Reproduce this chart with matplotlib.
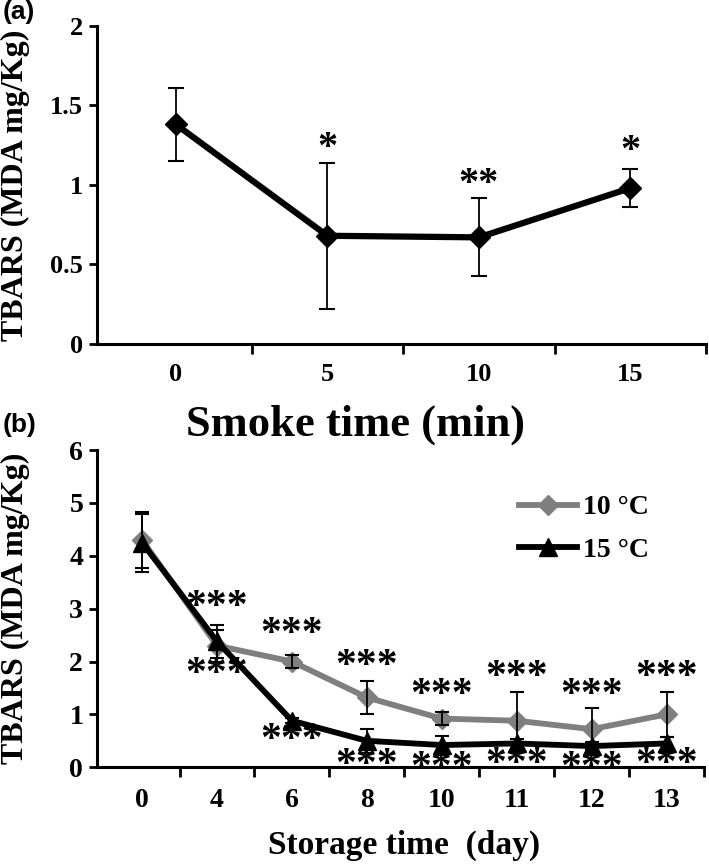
import matplotlib
matplotlib.use("Agg")
import matplotlib.pyplot as plt
import numpy as np

# ---------------- data ----------------
smoke_labels = ["0", "5", "10", "15"]
smoke_tbars = [1.38, 0.68, 0.67, 0.98]
smoke_err = [0.23, 0.46, 0.245, 0.12]
smoke_stars = ["", "*", "**", "*"]
smoke_star_y = [None, 1.23, 1.0, 1.21]

day_labels = ["0", "4", "6", "8", "10", "11", "12", "13"]
t10_tbars = [4.30, 2.30, 2.00, 1.32, 0.92, 0.88, 0.72, 1.00]
t10_err = [0.53, 0.30, 0.12, 0.32, 0.12, 0.55, 0.40, 0.42]
t15_tbars = [4.25, 2.38, 0.88, 0.50, 0.42, 0.45, 0.40, 0.45]
t15_err = [0.55, 0.32, 0.05, 0.23, 0.18, 0.08, 0.08, 0.12]
stars_above_y = [None, 3.02, 2.50, 1.90, 1.35, 1.69, 1.35, 1.69]
stars_below_y = [None, 1.74, 0.49, 0.02, -0.03, 0.04, -0.03, 0.04]
legend_labels = ["10 \u00b0C", "15 \u00b0C"]

SERIF = "Liberation Serif"
SANS = "Liberation Sans"

fig = plt.figure(figsize=(7.09, 8.64), dpi=100)

def style_axes(ax, ncat, ymax, yticks, ylabels, fs):
    for s in ["top", "right"]:
        ax.spines[s].set_visible(False)
    for s in ["left", "bottom"]:
        ax.spines[s].set_linewidth(2.2)
    ax.set_ylim(0, ymax)
    ax.set_yticks(yticks)
    ax.set_yticklabels(ylabels, fontfamily=SERIF, fontweight="bold", fontsize=fs)
    ax.tick_params(axis="y", direction="out", length=6, width=2, pad=4)
    ax.set_xticks(np.arange(ncat) + 0.5)
    ax.set_xticklabels([])
    ax.tick_params(axis="x", direction="out", length=7, width=2)

# ---------------- panel a ----------------
axa = fig.add_axes([0.137, 0.602, 0.859, 0.368])
xa = np.arange(len(smoke_labels))
axa.errorbar(xa, smoke_tbars, yerr=smoke_err, fmt="none", ecolor="black",
             elinewidth=1.3, capsize=5.5, capthick=1.5, zorder=2)
axa.plot(xa, smoke_tbars, color="black", lw=4.5, marker="D", ms=11,
         solid_capstyle="round", zorder=3)
axa.set_xlim(-0.52, 3.5)
style_axes(axa, 4, 2, [0, 0.5, 1, 1.5, 2], ["0", "0.5", "1", "1.5", "2"], 19)
for xi, lab in zip(xa, smoke_labels):
    axa.text(xi, -0.095, lab, transform=axa.get_xaxis_transform(), ha="center",
             va="center", fontfamily=SERIF, fontweight="bold", fontsize=19)
for xi, s, yy in zip(xa, smoke_stars, smoke_star_y):
    if s:
        axa.text(xi, yy, s, ha="center", va="center",
                 fontfamily=SERIF, fontweight="bold", fontsize=29)
axa.set_ylabel("TBARS (MDA mg/Kg)", fontfamily=SERIF, fontweight="bold",
               fontsize=23)
axa.yaxis.set_label_coords(-0.11, 0.5)
fig.text(0.502, 0.508, "Smoke time (min)", ha="center", va="center",
         fontfamily=SERIF, fontweight="bold", fontsize=32)
fig.text(0.003, 0.986, "(a)", ha="left", va="center", fontfamily=SANS,
         fontweight="bold", fontsize=19)
fig.text(0.003, 0.508, "(b)", ha="left", va="center", fontfamily=SANS,
         fontweight="bold", fontsize=19)

# ---------------- panel b ----------------
axb = fig.add_axes([0.137, 0.112, 0.856, 0.367])
xb = np.arange(len(day_labels))
axb.errorbar(xb, t10_tbars, yerr=t10_err, fmt="none", ecolor="black",
             elinewidth=1.3, capsize=5, capthick=1.5, zorder=4)
axb.errorbar(xb, t15_tbars, yerr=t15_err, fmt="none", ecolor="black",
             elinewidth=1.3, capsize=5, capthick=1.5, zorder=4)
l10, = axb.plot(xb, t10_tbars, color="#7f7f7f", lw=4.2, marker="D", ms=10,
                mfc="#7f7f7f", mec="#7f7f7f", zorder=3, label=legend_labels[0])
l15, = axb.plot(xb, t15_tbars, color="black", lw=4.2, marker="^", ms=13,
                zorder=3, label=legend_labels[1])
axb.set_xlim(-0.6, 7.5)
style_axes(axb, 8, 6, [0, 1, 2, 3, 4, 5, 6], ["0", "1", "2", "3", "4", "5", "6"], 20)
for xi, lab in zip(xb, day_labels):
    axb.text(xi, -0.105, lab, transform=axb.get_xaxis_transform(), ha="center",
             va="center", fontfamily=SERIF, fontweight="bold", fontsize=20)
for xi, ya, yb in zip(xb, stars_above_y, stars_below_y):
    if ya is not None:
        axb.text(xi, ya, "***", ha="center", va="center",
                 fontfamily=SERIF, fontweight="bold",
                 fontsize=30, zorder=5, clip_on=False)
    if yb is not None:
        axb.text(xi, yb, "***", ha="center", va="center",
                 fontfamily=SERIF, fontweight="bold",
                 fontsize=30, zorder=5, clip_on=False)
axb.set_ylabel("TBARS (MDA mg/Kg)", fontfamily=SERIF, fontweight="bold",
               fontsize=23)
axb.yaxis.set_label_coords(-0.11, 0.5)
fig.text(0.57, 0.021, "Storage time  (day)", ha="center", va="center",
         fontfamily=SERIF, fontweight="bold", fontsize=24)
axb.legend(handles=[l10, l15], loc="upper left", bbox_to_anchor=(0.672, 0.903),
           frameon=False, prop={"family": SERIF, "weight": "bold", "size": 20},
           handlelength=2.1, handletextpad=0.2, labelspacing=0.62, borderpad=0)

fig.savefig("out.png", dpi=100)
